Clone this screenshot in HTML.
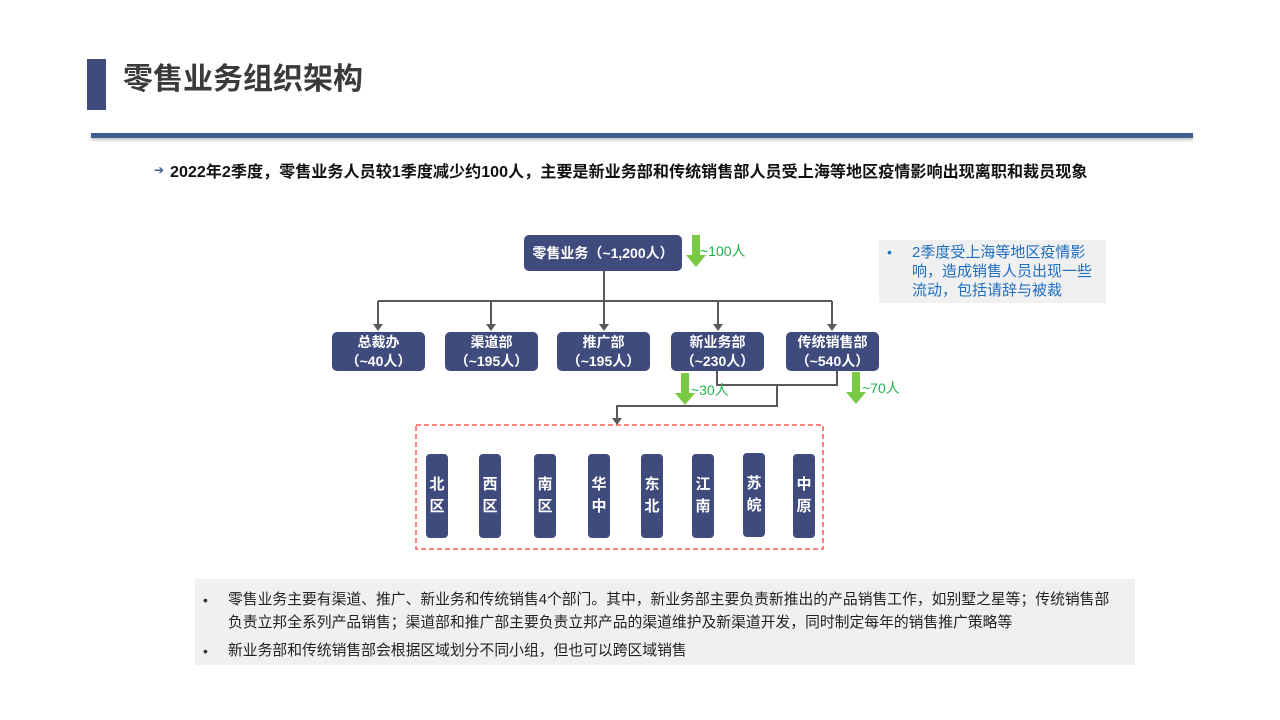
<!DOCTYPE html>
<html><head><meta charset="utf-8"><style>
body{margin:0;width:1280px;height:720px;background:#fff;position:relative;overflow:hidden;font-family:"Liberation Sans","Noto Sans CJK SC",sans-serif}
.a{position:absolute}
.node{position:absolute;background:#3f4a7d;color:#fff;border-radius:5px;font-weight:bold;text-align:center;box-sizing:border-box}
.kid{width:93px;height:39px;top:332px;font-size:14px;line-height:19px;padding-top:1px}
.pil{width:22px;height:84px;top:454px;font-size:15px;line-height:22px;display:flex;align-items:center;justify-content:center;border-radius:4px}
.g{color:#22b24c;font-size:14px}
</style></head><body>
<div class="a" style="left:87px;top:59px;width:19px;height:51px;background:#3f4a7d"></div>
<div class="a" style="left:123px;top:62px;font-size:30px;font-weight:bold;color:#3a3a3a;line-height:36px">零售业务组织架构</div>
<div class="a" style="left:91px;top:133px;width:1102px;height:5px;background:#3d5f8f;box-shadow:0 2px 3px rgba(0,0,0,0.25)"></div>
<div class="a" style="left:154px;top:163px;font-size:12px;color:#3d5f8f">➔</div>
<div class="a" style="left:170px;top:161px;font-size:16.1px;font-weight:bold;color:#111;line-height:22px;white-space:nowrap">2022年2季度，零售业务人员较1季度减少约100人，主要是新业务部和传统销售部人员受上海等地区疫情影响出现离职和裁员现象</div>

<svg class="a" style="left:0;top:0" width="1280" height="720">
<g stroke="#595959" stroke-width="2" fill="none">
<path d="M604 271V301M378 301H832M378 301V326M491 301V326M604 301V326M718 301V326M832 301V326"/>
<path d="M717 371V385H837V371M777 385V406H617V419"/>
</g>
<g fill="#595959">
<path d="M373 324h10l-5 7z"/><path d="M486 324h10l-5 7z"/><path d="M599 324h10l-5 7z"/><path d="M713 324h10l-5 7z"/><path d="M827 324h10l-5 7z"/><path d="M612 418h10l-5 7z"/>
</g>
<g fill="#7ac943">
<path d="M692 235h8v20h6l-10 12l-10-12h6z"/>
<path d="M681 373h8v20h6l-10 12l-10-12h6z"/>
<path d="M852 372h8v20h6l-10 12l-10-12h6z"/>
</g>
<rect x="416" y="425" width="407" height="124" fill="none" stroke="#ff3b3b" stroke-width="1.3" stroke-dasharray="5,3"/>
</svg>

<div class="node" style="left:524px;top:235px;width:158px;height:36px;font-size:14px;line-height:36px">零售业务（~1,200人）</div>
<div class="a g" style="left:700px;top:241px">~100人</div>
<div class="node kid" style="left:332px">总裁办<br>（~40人）</div>
<div class="node kid" style="left:445px">渠道部<br>（~195人）</div>
<div class="node kid" style="left:557px">推广部<br>（~195人）</div>
<div class="node kid" style="left:671px">新业务部<br>（~230人）</div>
<div class="node kid" style="left:786px">传统销售部<br>（~540人）</div>
<div class="a g" style="left:691px;top:380px">~30人</div>
<div class="a g" style="left:862px;top:378px">~70人</div>

<div class="node pil" style="left:426px">北<br>区</div>
<div class="node pil" style="left:479px">西<br>区</div>
<div class="node pil" style="left:534px">南<br>区</div>
<div class="node pil" style="left:588px">华<br>中</div>
<div class="node pil" style="left:641px">东<br>北</div>
<div class="node pil" style="left:692px">江<br>南</div>
<div class="node pil" style="left:743px;top:453px">苏<br>皖</div>
<div class="node pil" style="left:793px">中<br>原</div>

<div class="a" style="left:879px;top:240px;width:227px;height:63px;background:#f0f0f0"></div>
<div class="a" style="left:887px;top:243px;font-size:14px;color:#1f6fc0;line-height:19px">•</div>
<div class="a" style="left:912px;top:243px;width:184px;font-size:15px;line-height:19px;color:#1f6fc0">2季度受上海等地区疫情影响，造成销售人员出现一些流动，包括请辞与被裁</div>

<div class="a" style="left:195px;top:579px;width:940px;height:86px;background:#f0f0f0"></div>
<div class="a" style="left:203px;top:589px;font-size:14px;color:#333;line-height:23px">•</div>
<div class="a" style="left:203px;top:640px;font-size:14px;color:#333;line-height:23px">•</div>
<div class="a" style="left:228px;top:589px;width:900px;font-size:14.8px;line-height:23px;color:#222;white-space:nowrap">零售业务主要有渠道、推广、新业务和传统销售4个部门。其中，新业务部主要负责新推出的产品销售工作，如别墅之星等；传统销售部<br>负责立邦全系列产品销售；渠道部和推广部主要负责立邦产品的渠道维护及新渠道开发，同时制定每年的销售推广策略等</div>
<div class="a" style="left:228px;top:640px;font-size:14.8px;line-height:23px;color:#222">新业务部和传统销售部会根据区域划分不同小组，但也可以跨区域销售</div>
</body></html>
